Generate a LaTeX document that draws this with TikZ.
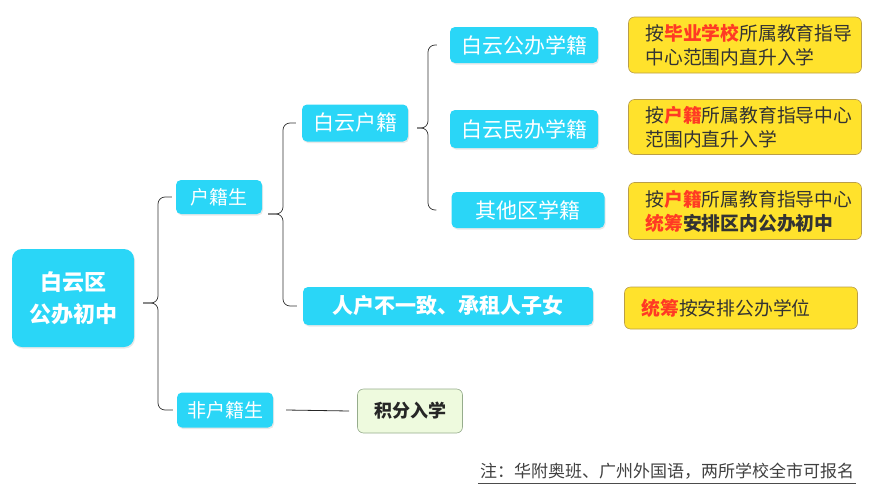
\documentclass[tikz,border=0pt]{standalone}
\usepackage{fontspec}
\setmainfont{Noto Sans CJK SC}
\usepackage{xcolor}
\usetikzlibrary{positioning,shadows}
\definecolor{topicblue}{RGB}{42,214,247}
\definecolor{notefill}{RGB}{255,226,44}
\definecolor{noteedge}{RGB}{186,158,72}
\definecolor{hotred}{RGB}{255,58,36}
\definecolor{pointfill}{RGB}{238,250,222}
\definecolor{pointedge}{RGB}{150,172,140}
\newcommand{\hot}[1]{\textbf{\color{hotred}#1}}

\begin{document}
\begin{tikzpicture}[
  x=1pt, y=-1pt,
  topic/.style={fill=topicblue, text=white, rounded corners=5pt, inner sep=0pt,
                drop shadow={opacity=.18, shadow xshift=1pt, shadow yshift=-1.5pt}},
  rule/.style={draw=noteedge, fill=notefill, rounded corners=6pt, line width=.6pt,
               text=black!80, align=left, text width=199pt, inner xsep=17pt,
               inner ysep=0pt, font=\fontsize{18.8}{24}\selectfont},
  brace/.style={draw=black!80, line width=.7pt, rounded corners=7pt},
  link/.style={draw=black!85, line width=.8pt}
]
  \useasboundingbox (0,0) rectangle (881,490);

  % Root and first split.
  \node[topic, rounded corners=10pt, minimum width=122pt, minimum height=98pt,
        align=center, font=\fontsize{22}{32}\selectfont\bfseries]
    (root) at (73,298) {白云区\\公办初中};
  \node[topic, minimum width=86pt, minimum height=34pt, font=\fontsize{19}{24}\selectfont]
    (hjs) at (219,197) {户籍生};
  \node[topic, minimum width=96pt, minimum height=35pt, font=\fontsize{19}{24}\selectfont]
    (fhjs) at (225,410) {非户籍生};
  \coordinate (b1) at (158,303);
  \draw[brace] (root.east |- b1) ++(9,0) -- (b1) |- ([xshift=-4pt]hjs.west);
  \draw[brace] (root.east |- b1) ++(9,0) -- (b1) |- ([xshift=-4pt]fhjs.west);

  % Residents.
  \node[topic, minimum width=106pt, minimum height=37pt, font=\fontsize{21}{24}\selectfont]
    (byhj) at (355,123) {白云户籍};
  \node[topic, minimum width=290pt, minimum height=38pt, font=\fontsize{21}{24}\selectfont\bfseries]
    (rhby) at (448,306) {人户不一致、承租人子女};
  \coordinate (b2) at (283,214);
  \draw[brace] (hjs.east |- b2) ++(6,0) -- (b2) |- ([xshift=-6pt]byhj.west);
  \draw[brace] (hjs.east |- b2) ++(6,0) -- (b2) |- ([xshift=-6pt]rhby.west);

  % School registration.
  \node[topic, minimum width=148pt, minimum height=36pt, font=\fontsize{21}{24}\selectfont]
    (gb) at (524,45) {白云公办学籍};
  \node[topic, minimum width=148pt, minimum height=38pt, font=\fontsize{21}{24}\selectfont]
    (mb) at (524,129) {白云民办学籍};
  \node[topic, minimum width=153pt, minimum height=36pt, font=\fontsize{21}{24}\selectfont]
    (qt) at (528,210) {其他区学籍};
  \coordinate (b3) at (428,128);
  \draw[brace] (byhj.east |- b3) ++(9,0) -- (b3) |- ([xshift=-13pt]gb.west);
  \draw[brace] (byhj.east |- b3) ++(9,0) -- (b3) |- ([xshift=-15pt]qt.west);

  % Rules.
  \node[rule, minimum height=56pt] (r1) at (745,45)
    {按\hot{毕业学校}所属教育指导\\中心范围内直升入学};
  \node[rule, minimum height=55pt] (r2) at (745,127)
    {按\hot{户籍}所属教育指导中心\\范围内直升入学};
  \node[rule, minimum height=57pt] (r3) at (745,211)
    {按\hot{户籍}所属教育指导中心\\\hot{统筹}\textbf{安排区内公办初中}};
  \node[rule, minimum height=42pt] (r4) at (741,308)
    {\hot{统筹}按安排公办学位};

  % Non-residents.
  \node[draw=pointedge, fill=pointfill, rounded corners=6pt, line width=.6pt,
        minimum width=105pt, minimum height=44pt, text=black!85,
        font=\fontsize{18}{24}\selectfont\bfseries]
    (jf) at (410,411) {积分入学};
  \draw[link] ([xshift=13pt]fhjs.east) -- ([xshift=-8pt]jf.west);

  % Footnote.
  \node[text=black!75, inner xsep=2pt, inner ysep=4pt, font=\fontsize{17}{20}\selectfont]
    (note) at (667,471) {注：华附奥班、广州外国语，两所学校全市可报名};
  \draw[black!70, line width=.7pt] (note.south west) -- (note.south east);
\end{tikzpicture}
\end{document}
